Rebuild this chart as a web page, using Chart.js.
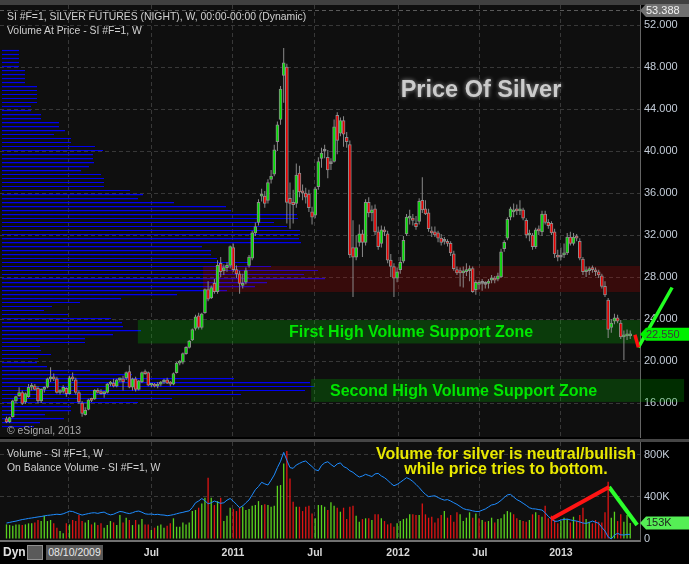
<!DOCTYPE html>
<html lang="en">
<head>
<meta charset="UTF-8">
<meta name="viewport" content="width=device-width, initial-scale=1.0">
<title>Silver futures - weekly</title>
<script src="https://cdn.jsdelivr.net/npm/chart.js"></script>
<style>
    html, body { margin: 0; padding: 0; background: #000; }
    body { position: relative; width: 689px; height: 564px; overflow: hidden; font-family: "Liberation Sans", Arial, sans-serif; }
    .bg { position: absolute; z-index: 0; }
    canvas { position: absolute; left: 0; z-index: 1; }
    .txt { position: absolute; z-index: 2; white-space: nowrap; line-height: 1; }
    .hdr { font-size: 10.4px; color: #d0d0d0; left: 7px; }
    .zone { font-size: 16px; font-weight: bold; color: #00e600; }
    .note { font-size: 16px; font-weight: bold; color: #e8e800; left: 506px; transform: translateX(-50%); }
</style>
</head>
<body>
    <div class="bg" style="left:0;top:0;width:689px;height:5px;background:#404040"></div>
    <div class="bg" style="left:0;top:439px;width:689px;height:3px;background:#464646"></div>

    <canvas id="priceChart" width="689" height="440" style="top:0"></canvas>
    <canvas id="volumeChart" width="689" height="124" style="top:440px"></canvas>

    <div class="txt hdr" style="top:12px">SI #F=1, SILVER FUTURES (NIGHT), W, 00:00-00:00 (Dynamic)</div>
    <div class="txt hdr" style="top:26px">Volume At Price - SI #F=1, W</div>
    <div class="txt" style="left:481px;top:78px;font-size:23.5px;font-weight:bold;color:#cccccc;transform:translateX(-50%);text-shadow:0 0 4px rgba(255,255,255,0.55)">Price Of Silver</div>
    <div class="txt zone" style="left:289px;top:324px">First High Volume Support Zone</div>
    <div class="txt zone" style="left:330px;top:383px">Second High Volume Support Zone</div>
    <div class="txt hdr" style="top:426px;color:#a8a8a8">© eSignal, 2013</div>

    <div class="txt hdr" style="top:449px">Volume - SI #F=1, W</div>
    <div class="txt hdr" style="top:463px">On Balance Volume - SI #F=1, W</div>
    <div class="txt note" style="top:446px">Volume for silver is neutral/bullish</div>
    <div class="txt note" style="top:461px">while price tries to bottom.</div>

    <div class="txt" style="left:3px;top:546px;font-size:12px;font-weight:bold;color:#e0e0e0">Dyn</div>
    <div class="txt" style="left:27px;top:545px;width:14px;height:13px;background:#5a5a5a;border:1px solid #909090"></div>
    <div class="txt" style="left:46px;top:545px;width:57px;height:15px;line-height:15px;background:#585858;color:#e8e8e8;font-size:10.5px;text-align:center">08/10/2009</div>

<script>
    // weekly silver futures, one entry per week starting 08/10/2009
    const opens = [
        14.5, 14.2, 14.7, 16.2, 16.7, 17.0, 16.1, 16.6, 17.5, 17.6,
        17.4, 16.2, 17.3, 17.5, 18.3, 18.4, 18.3, 17.0, 17.1, 17.4,
        16.9, 18.4, 18.2, 17.0, 16.0, 14.9, 15.4, 16.3, 16.4, 17.2,
        17.0, 16.9, 17.0, 17.8, 17.9, 17.6, 18.2, 18.3, 18.4, 19.0,
        17.5, 18.3, 17.3, 18.0, 18.9, 18.9, 17.7, 17.8, 17.6, 17.8,
        18.0, 18.2, 17.9, 17.8, 18.9, 19.8, 19.9, 20.7, 21.3, 22.0,
        23.1, 24.3, 23.2, 24.6, 26.8, 26.0, 27.4, 26.6, 29.3, 28.6,
        28.9, 29.1, 30.8, 28.7, 28.3, 27.2, 27.5, 29.1, 29.8, 32.2,
        33.2, 35.7, 35.7, 35.3, 37.3, 37.8, 40.9, 43.0, 47.2, 48.0,
        35.5, 35.1, 35.0, 37.9, 36.2, 36.0, 35.9, 34.2, 33.9, 36.6,
        39.3, 40.0, 39.4, 38.8, 39.0, 43.4, 41.7, 42.9, 41.3, 40.6,
        30.8, 29.9, 31.3, 32.1, 31.3, 35.1, 34.1, 34.5, 32.3, 31.2,
        32.5, 32.1, 29.6, 29.0, 27.9, 28.7, 29.5, 32.1, 33.6, 33.6,
        33.1, 33.3, 35.3, 34.5, 34.1, 32.4, 32.3, 32.2, 31.7, 31.4,
        31.4, 31.2, 30.2, 28.7, 28.6, 28.4, 28.5, 28.6, 28.8, 26.8,
        27.3, 27.4, 27.3, 27.4, 27.7, 27.9, 27.8, 28.0, 30.7, 31.7,
        33.7, 34.2, 34.4, 34.3, 34.4, 33.4, 32.0, 32.0, 30.9, 32.5,
        32.3, 34.0, 33.2, 33.1, 32.3, 30.0, 29.9, 30.1, 30.3, 31.8,
        31.2, 31.8, 31.4, 29.7, 28.5, 28.6, 28.8, 28.6, 28.5, 28.1,
        27.1, 25.8, 23.2, 23.8, 24.1, 23.6, 22.3, 22.4, 22.4
    ];
    const highs = [
        14.7, 14.7, 16.3, 16.7, 17.5, 17.2, 17.0, 17.8, 17.9, 17.8,
        17.6, 17.4, 17.6, 18.4, 19.4, 18.8, 18.5, 17.3, 17.7, 17.5,
        18.6, 18.9, 18.4, 17.2, 16.2, 15.6, 16.4, 16.5, 17.3, 17.4,
        17.3, 17.1, 17.9, 18.1, 18.3, 18.3, 18.4, 18.6, 19.0, 19.6,
        18.4, 18.5, 18.2, 19.0, 19.2, 19.0, 17.9, 17.9, 18.0, 18.1,
        18.3, 18.4, 18.1, 18.9, 19.9, 20.1, 20.8, 21.4, 22.0, 23.1,
        24.4, 24.6, 24.6, 26.9, 27.6, 27.2, 27.8, 29.6, 29.9, 29.2,
        29.4, 31.0, 31.2, 29.1, 28.6, 28.3, 28.9, 30.1, 32.4, 33.2,
        35.4, 36.4, 36.2, 37.3, 38.2, 40.6, 42.8, 46.2, 49.8, 48.3,
        37.0, 36.3, 38.8, 38.6, 36.8, 36.5, 36.3, 34.7, 36.6, 39.4,
        40.3, 40.6, 40.1, 39.3, 43.0, 43.7, 43.2, 43.3, 41.8, 41.0,
        33.4, 32.0, 33.0, 32.5, 35.4, 35.6, 34.8, 34.9, 32.8, 32.9,
        32.8, 32.4, 30.2, 29.3, 28.9, 29.9, 31.9, 34.0, 34.4, 34.0,
        33.8, 35.5, 37.5, 35.3, 34.5, 32.8, 32.8, 32.4, 32.1, 31.8,
        31.6, 31.4, 30.5, 29.0, 28.9, 29.0, 29.3, 29.1, 29.0, 27.7,
        27.7, 27.8, 27.6, 27.8, 28.2, 28.1, 28.4, 30.7, 31.5, 33.7,
        34.7, 35.0, 34.9, 35.3, 34.6, 33.6, 32.5, 32.2, 32.7, 32.9,
        34.3, 34.3, 33.5, 33.3, 32.6, 30.6, 30.8, 31.2, 32.2, 32.3,
        32.2, 32.1, 31.7, 29.9, 29.0, 29.0, 29.1, 28.9, 28.7, 28.3,
        27.6, 26.0, 24.0, 24.5, 24.4, 23.9, 22.9, 23.0, 22.9
    ];
    const lows = [
        14.1, 14.1, 14.6, 16.0, 16.6, 15.8, 15.9, 16.5, 17.2, 17.2,
        16.0, 16.0, 17.0, 17.4, 18.0, 18.1, 16.9, 16.8, 16.9, 16.6,
        16.8, 18.1, 16.8, 15.9, 14.7, 14.8, 15.3, 16.1, 16.3, 16.9,
        16.8, 16.5, 16.9, 17.6, 17.5, 17.5, 18.0, 17.2, 18.2, 17.4,
        17.2, 17.1, 17.2, 17.9, 18.7, 17.6, 17.5, 17.5, 17.4, 17.6,
        17.8, 17.8, 17.6, 17.7, 18.8, 19.6, 19.7, 20.6, 21.2, 21.9,
        22.9, 23.0, 23.0, 24.5, 25.7, 25.9, 26.4, 26.4, 28.0, 28.2,
        28.5, 28.8, 28.5, 27.9, 26.4, 26.9, 27.3, 28.9, 29.6, 31.9,
        32.9, 35.2, 34.6, 35.0, 36.9, 37.6, 40.0, 42.5, 44.6, 33.1,
        32.6, 33.1, 34.6, 35.6, 35.3, 35.0, 34.2, 33.0, 33.6, 36.3,
        38.4, 39.3, 37.4, 38.2, 38.9, 39.7, 41.4, 40.4, 40.3, 29.8,
        26.1, 29.6, 30.9, 29.9, 31.0, 33.7, 33.3, 32.0, 30.6, 30.8,
        31.9, 29.3, 28.0, 26.1, 27.5, 28.3, 29.3, 31.9, 33.0, 32.9,
        32.5, 33.0, 34.1, 33.9, 32.3, 31.8, 31.8, 31.3, 31.0, 31.1,
        30.9, 30.0, 28.6, 28.2, 27.1, 27.0, 28.1, 27.6, 26.5, 26.3,
        26.8, 26.7, 26.9, 26.9, 27.4, 27.4, 27.6, 27.9, 30.4, 31.5,
        33.4, 33.7, 33.9, 33.9, 33.4, 31.7, 31.4, 30.6, 30.7, 32.0,
        31.9, 33.0, 32.6, 32.0, 29.8, 29.5, 29.6, 29.8, 30.1, 31.0,
        31.0, 31.4, 29.6, 28.2, 28.0, 28.2, 28.4, 28.1, 27.9, 26.9,
        26.1, 22.2, 22.7, 23.5, 23.6, 22.1, 20.1, 22.0, 22.1
    ];
    const closes = [
        14.2, 14.6, 16.2, 16.6, 17.0, 15.95, 16.9, 17.5, 17.6, 17.3,
        16.2, 17.3, 17.5, 18.3, 18.4, 18.3, 17.0, 17.1, 17.5, 16.9,
        18.4, 18.3, 17.0, 16.1, 15.0, 15.3, 16.3, 16.25, 17.2, 17.0,
        16.9, 17.0, 17.8, 17.9, 17.6, 18.2, 18.3, 18.0, 18.9, 17.5,
        18.3, 17.3, 18.1, 18.9, 18.8, 17.7, 17.8, 17.6, 17.8, 18.0,
        18.1, 17.9, 17.8, 18.8, 19.8, 19.9, 20.7, 21.3, 21.9, 23.0,
        24.2, 23.2, 24.5, 26.8, 25.9, 27.0, 26.6, 29.1, 28.5, 28.9,
        29.1, 30.9, 28.7, 28.3, 27.4, 27.4, 28.6, 29.9, 32.2, 32.8,
        35.1, 35.8, 35.0, 37.0, 37.6, 40.1, 42.5, 45.9, 48.4, 35.1,
        35.0, 34.9, 37.7, 36.1, 36.0, 35.6, 34.6, 33.7, 36.4, 39.0,
        39.8, 40.0, 38.2, 38.8, 42.3, 41.0, 42.9, 41.6, 40.9, 30.1,
        29.9, 30.8, 32.1, 31.3, 35.1, 34.1, 34.4, 32.3, 30.9, 32.5,
        32.3, 29.6, 29.0, 27.9, 28.5, 29.4, 31.5, 33.7, 33.8, 33.4,
        32.8, 35.2, 34.4, 34.0, 32.6, 32.2, 32.0, 31.7, 31.3, 31.4,
        31.2, 30.3, 28.8, 28.4, 28.4, 28.5, 28.7, 28.7, 26.6, 27.5,
        27.4, 27.4, 27.3, 27.6, 27.9, 27.7, 28.1, 30.4, 31.3, 33.5,
        34.5, 34.4, 34.3, 34.4, 33.6, 32.0, 32.1, 30.9, 32.5, 32.4,
        34.0, 33.2, 32.9, 32.2, 30.2, 29.9, 29.9, 30.3, 31.8, 31.2,
        31.8, 31.7, 29.8, 28.5, 28.6, 28.8, 28.7, 28.5, 28.2, 27.1,
        26.3, 23.0, 23.6, 24.1, 23.8, 22.3, 22.4, 22.5, 22.55
    ];
    // weekly volume, thousands of contracts
    const volumes = [
        139, 133, 127, 139, 139, 133, 139, 149, 149, 158,
        181, 171, 222, 171, 181, 149, 108, 76, 54, 149,
        139, 181, 171, 228, 171, 158, 181, 139, 158, 133,
        149, 108, 133, 171, 158, 133, 228, 158, 203, 181,
        133, 181, 139, 190, 139, 139, 86, 108, 127, 139,
        108, 127, 149, 197, 117, 117, 158, 139, 158, 266,
        276, 298, 339, 393, 583, 393, 323, 361, 393, 171,
        222, 298, 285, 266, 298, 307, 276, 285, 317, 323,
        361, 323, 330, 323, 307, 317, 507, 514, 720, 837,
        577, 355, 307, 307, 266, 307, 317, 244, 197, 323,
        323, 307, 276, 349, 317, 298, 260, 298, 190, 307,
        317, 222, 165, 190, 197, 197, 181, 235, 235, 197,
        171, 139, 149, 117, 149, 171, 190, 197, 235, 235,
        228, 228, 339, 235, 203, 212, 158, 197, 228, 266,
        203, 228, 165, 254, 235, 171, 203, 254, 203, 244,
        197, 181, 165, 171, 203, 158, 190, 197, 235, 266,
        254, 235, 197, 181, 171, 165, 181, 235, 254, 228,
        212, 317, 197, 222, 181, 149, 171, 203, 190, 158,
        212, 171, 228, 298, 190, 165, 149, 181, 165, 158,
        254, 545, 203, 260, 171, 235, 165, 228, 153
    ];
    // on balance volume, thousands (relative level)
    const obv = [
        152, 158, 165, 170, 178, 185, 190, 196, 200, 205,
        210, 214, 220, 225, 228, 232, 236, 233, 240, 252,
        265, 262, 250, 238, 228, 235, 242, 248, 250, 244,
        252, 256, 240, 230, 236, 250, 262, 258, 248, 242,
        250, 262, 266, 255, 240, 236, 238, 232, 235, 230,
        228, 222, 226, 232, 240, 248, 254, 262, 268, 300,
        345, 362, 385, 365, 335, 345, 362, 350, 340, 345,
        370, 386, 360, 330, 298, 315, 345, 372, 420, 470,
        500, 540, 525, 514, 560, 610, 680, 740, 825, 750,
        680, 673, 705, 720, 735, 743, 715, 690, 660, 650,
        700, 725, 736, 710, 688, 715, 725, 690, 676, 650,
        635, 610, 590, 600, 616, 605, 595, 620, 625, 600,
        584, 560, 530, 507, 520, 540, 562, 584, 570, 548,
        520, 490, 455, 425, 403, 408, 412, 395, 381, 370,
        375, 362, 345, 330, 310, 290, 280, 276, 268, 262,
        262, 274, 286, 305, 324, 330, 345, 368, 395, 420,
        425, 400, 375, 360, 340, 320, 298, 288, 286, 280,
        276, 250, 215, 190, 168, 170, 181, 186, 190, 182,
        175, 171, 162, 152, 149, 158, 171, 160, 149, 110,
        76, 20, 0, 38, 54, 40, 38, 44, 44
    ];
    // volume at price profile (price level, relative volume)
    const vapPrices = [
        49.57, 49.19, 48.81, 48.43, 48.05, 47.66, 47.28, 46.90, 46.52, 46.14,
        45.76, 45.38, 45.00, 44.62, 44.24, 43.85, 43.47, 43.09, 42.71, 42.33,
        41.95, 41.57, 41.19, 40.81, 40.43, 40.05, 39.66, 39.28, 38.90, 38.52,
        38.14, 37.76, 37.38, 37.00, 36.62, 36.24, 35.85, 35.47, 35.09, 34.71,
        34.33, 33.95, 33.57, 33.19, 32.81, 32.43, 32.05, 31.66, 31.28, 30.90,
        30.52, 30.14, 29.76, 29.38, 29.00, 28.62, 28.24, 27.85, 27.47, 27.09,
        26.71, 26.33, 25.95, 25.57, 25.19, 24.81, 24.43, 24.05, 23.66, 23.28,
        22.90, 22.52, 22.14, 21.76, 21.38, 21.00, 20.62, 20.24, 19.85, 19.47,
        19.09, 18.71, 18.33, 17.95, 17.57, 17.19, 16.81, 16.43, 16.05, 15.66,
        15.28, 14.90, 14.52, 14.14, 13.76
    ];
    const vapVolumes = [
        17, 17, 17, 17, 17, 23, 23, 23, 23, 35,
        35, 35, 35, 35, 29, 29, 39, 39, 57, 57,
        63, 52, 69, 69, 93, 101, 91, 91, 92, 87,
        79, 99, 102, 102, 102, 128, 141, 136, 172, 224,
        229, 295, 296, 272, 285, 298, 298, 297, 299, 200,
        209, 209, 215, 246, 269, 316, 302, 323, 265, 253,
        225, 175, 119, 78, 50, 42, 66, 109, 120, 121,
        139, 111, 83, 83, 38, 39, 49, 36, 35, 45,
        88, 130, 232, 308, 312, 303, 239, 170, 136, 69,
        69, 43, 62, 38, 32
    ];

    const priceTicks = [16, 20, 24, 28, 32, 36, 40, 44, 48, 52];
    const volumeTicks = [0, 400, 800];
    const tickWeeks = [19.8, 46.0, 71.9, 97.9, 124.3, 150.3, 176.0];
    const tickLabels = ['', 'Jul', '2011', 'Jul', '2012', 'Jul', '2013'];
    const scaleHigh = 53.388;

    // support / resistance bands: price range and first/last week
    const resistanceBand = { low: 26.57, high: 29.05, from: 62.4, to: 201.1 };
    const supportBand1 = { low: 21.67, high: 23.90, from: 41.7, to: 201.1 };
    const supportBand2 = { low: 16.10, high: 18.29, from: 96.7, to: 215.1 };

    // hand drawn marks (week, price) and (week, volume K)
    const priceMarkDown = [{ x: 199.5, y: 22.5 }, { x: 200.6, y: 21.3 }];
    const priceMarkUp = [{ x: 200.6, y: 21.3 }, { x: 211.3, y: 27.0 }];
    const volMarkUp = [{ x: 172.9, y: 190 }, { x: 191.3, y: 495 }];
    const volMarkDown = [{ x: 191.3, y: 495 }, { x: 200.2, y: 133 }];

    const firstWeek = -2.06, lastWeek = 201.11;
    const priceMin = 12.762, priceMax = 53.905;
    const volMin = -19.05, volMax = 923.8;

    Chart.defaults.font.family = '"Liberation Sans", Arial, sans-serif';

    const gridColor = '#383838';
    const axisText = '#c3ccd8';

    // fixed axis sizes, no label padding pushed into the plot area
    const fixWidth = w => s => { s.width = w; s.paddingTop = 0; s.paddingBottom = 0; };
    const fixHeight = h => s => { s.height = h; s.paddingLeft = 0; s.paddingRight = 0; };

    function drawTag(ctx, x, y, text, bg, fg) {
        ctx.save();
        ctx.fillStyle = bg;
        ctx.beginPath();
        ctx.moveTo(x, y);
        ctx.lineTo(x + 6, y - 6.5);
        ctx.lineTo(689, y - 6.5);
        ctx.lineTo(689, y + 6.5);
        ctx.lineTo(x + 6, y + 6.5);
        ctx.closePath();
        ctx.fill();
        ctx.fillStyle = fg;
        ctx.font = '11px "Liberation Sans", Arial, sans-serif';
        ctx.textBaseline = 'middle';
        ctx.fillText(text, x + 6, y + 0.5);
        ctx.restore();
    }

    function fillArea(chart) {
        const { ctx, chartArea: a } = chart;
        ctx.save();
        ctx.fillStyle = '#0f0f0f';
        ctx.fillRect(a.left, a.top, a.right - a.left, a.bottom - a.top);
        ctx.restore();
    }

    const priceDecor = {
        id: 'priceDecor',
        beforeDraw: fillArea,
        beforeDatasetDraw(chart, args) {
            if (args.index !== 1) return;
            const { ctx } = chart, xs = chart.scales.x, ys = chart.scales.y;
            const bands = [
                [resistanceBand, 'rgba(200,0,0,0.22)'],
                [supportBand1, 'rgba(0,200,0,0.24)'],
                [supportBand2, 'rgba(0,190,0,0.24)']
            ];
            ctx.save();
            bands.forEach(([b, color]) => {
                const x1 = xs.getPixelForValue(b.from), x2 = xs.getPixelForValue(b.to);
                const y1 = ys.getPixelForValue(b.high), y2 = ys.getPixelForValue(b.low);
                ctx.fillStyle = color;
                ctx.fillRect(x1, y1, x2 - x1, y2 - y1);
            });
            ctx.restore();
        },
        afterDraw(chart) {
            const { ctx, chartArea: a } = chart, ys = chart.scales.y;
            const yTop = ys.getPixelForValue(scaleHigh);
            ctx.save();
            ctx.strokeStyle = '#5a5a5a';
            ctx.setLineDash([4, 3]);
            ctx.beginPath();
            ctx.moveTo(a.left, Math.round(yTop) + 0.5);
            ctx.lineTo(a.right, Math.round(yTop) + 0.5);
            ctx.stroke();
            ctx.restore();
            drawTag(ctx, a.right, yTop, scaleHigh.toFixed(3), '#707070', '#f0f0f0');
            const last = closes[closes.length - 1];
            drawTag(ctx, a.right, ys.getPixelForValue(last), last.toFixed(3), '#00f000', '#3a3a3a');
        }
    };

    const bodyColors = opens.map((o, i) => closes[i] > o ? '#00e000' : closes[i] < o ? '#e80000' : '#808080');

    new Chart(document.getElementById('priceChart'), {
        type: 'bar',
        data: {
            datasets: [
                {
                    data: opens.map((o, i) => ({ x: i, y: [Math.min(o, closes[i]), Math.max(o, closes[i])] })),
                    xAxisID: 'x', yAxisID: 'y',
                    backgroundColor: bodyColors, borderColor: '#8c8c8c', borderWidth: 1, borderSkipped: false,
                    barThickness: 3, minBarLength: 2, grouped: false, order: 1
                },
                {
                    data: highs.map((h, i) => ({ x: i, y: [lows[i], h] })),
                    xAxisID: 'x', yAxisID: 'y',
                    backgroundColor: '#8a8a8a', barThickness: 1, inflateAmount: 0, grouped: false, order: 2
                },
                {
                    indexAxis: 'y',
                    data: vapPrices.map((p, k) => ({ x: vapVolumes[k], y: p })),
                    xAxisID: 'xv', yAxisID: 'y',
                    backgroundColor: '#0000f0', barThickness: 1.2, inflateAmount: 0, grouped: false, order: 3
                },
                {
                    type: 'line', data: priceMarkDown, xAxisID: 'x', yAxisID: 'y',
                    borderColor: '#ff1010', borderWidth: 3.5, pointRadius: 0, clip: false, order: 0
                },
                {
                    type: 'line', data: priceMarkUp, xAxisID: 'x', yAxisID: 'y',
                    borderColor: '#22ff22', borderWidth: 3.5, clip: false, order: 0,
                    pointRadius: [0, 7], pointStyle: 'triangle', rotation: 28,
                    pointBackgroundColor: '#22ff22', pointBorderColor: '#22ff22', pointBorderWidth: 0
                }
            ]
        },
        options: {
            responsive: false,
            animation: false,
            events: [],
            layout: { autoPadding: false, padding: { top: 5, bottom: 3, left: 0, right: 0 } },
            plugins: { legend: { display: false }, tooltip: { enabled: false } },
            scales: {
                x: {
                    type: 'linear', min: firstWeek, max: lastWeek, offset: false,
                    grid: { color: gridColor, drawTicks: false, offset: false },
                    border: { display: false, dash: [4, 3] },
                    ticks: { display: false },
                    afterBuildTicks: s => { s.ticks = tickWeeks.map(v => ({ value: v })); },
                    afterFit: fixHeight(0)
                },
                xv: { type: 'linear', min: -2, max: 638, offset: false, display: false },
                y: {
                    type: 'linear', position: 'right', min: priceMin, max: priceMax, offset: false,
                    grid: { color: gridColor, drawTicks: false, offset: false },
                    border: { display: true, color: '#646464', dash: [4, 3] },
                    ticks: { color: axisText, font: { size: 11 }, padding: 4, callback: v => v.toFixed(3) },
                    afterBuildTicks: s => { s.ticks = priceTicks.map(v => ({ value: v })); },
                    afterFit: fixWidth(49)
                }
            }
        },
        plugins: [priceDecor]
    });

    const volumeDecor = {
        id: 'volumeDecor',
        beforeDraw: fillArea,
        afterDraw(chart) {
            const last = volumes[volumes.length - 1];
            drawTag(chart.ctx, chart.chartArea.right, chart.scales.y.getPixelForValue(last), last + 'K', '#55ee55', '#1e1e1e');
        }
    };

    const volColors = volumes.map((v, i) => i === 0 || closes[i] >= closes[i - 1] ? '#5ad21e' : '#e01414');

    new Chart(document.getElementById('volumeChart'), {
        type: 'bar',
        data: {
            datasets: [
                {
                    type: 'line', data: obv.map((v, i) => ({ x: i, y: v })), xAxisID: 'x', yAxisID: 'yobv',
                    borderColor: '#1e8cff', borderWidth: 1, pointRadius: 0, order: 0
                },
                {
                    data: volumes.map((v, i) => ({ x: i, y: v })), xAxisID: 'x', yAxisID: 'y',
                    backgroundColor: volColors, barThickness: 1.3, inflateAmount: 0, grouped: false, order: 1
                },
                {
                    type: 'line', data: volMarkUp, xAxisID: 'x', yAxisID: 'y',
                    borderColor: '#ff1414', borderWidth: 4, pointRadius: 0, clip: false, order: -1
                },
                {
                    type: 'line', data: volMarkDown, xAxisID: 'x', yAxisID: 'y',
                    borderColor: '#2cff2c', borderWidth: 4, pointRadius: 0, clip: false, order: -1
                }
            ]
        },
        options: {
            responsive: false,
            animation: false,
            events: [],
            layout: { autoPadding: false, padding: { top: 2, bottom: 0, left: 0, right: 0 } },
            plugins: { legend: { display: false }, tooltip: { enabled: false } },
            scales: {
                x: {
                    type: 'linear', min: firstWeek, max: lastWeek, offset: false,
                    grid: { color: gridColor, drawTicks: false, offset: false },
                    border: { display: true, color: '#707070', width: 2, dash: [4, 3] },
                    ticks: {
                        color: '#d8d8d8', font: { size: 10.5, weight: 'bold' }, padding: 6,
                        maxRotation: 0, autoSkip: false, callback: (v, i) => tickLabels[i]
                    },
                    afterBuildTicks: s => { s.ticks = tickWeeks.map(v => ({ value: v })); },
                    afterFit: fixHeight(23)
                },
                y: {
                    type: 'linear', position: 'right', min: volMin, max: volMax, offset: false,
                    grid: { color: c => c.tick && c.tick.value === 0 ? 'rgba(0,0,0,0)' : gridColor, drawTicks: false },
                    border: { display: true, color: '#646464', dash: [4, 3] },
                    ticks: { color: axisText, font: { size: 11 }, padding: 4, callback: v => v === 0 ? '0' : v + 'K' },
                    afterBuildTicks: s => { s.ticks = volumeTicks.map(v => ({ value: v })); },
                    afterFit: fixWidth(49)
                },
                yobv: { type: 'linear', min: volMin, max: volMax, display: false }
            }
        },
        plugins: [volumeDecor]
    });
</script>
</body>
</html>
